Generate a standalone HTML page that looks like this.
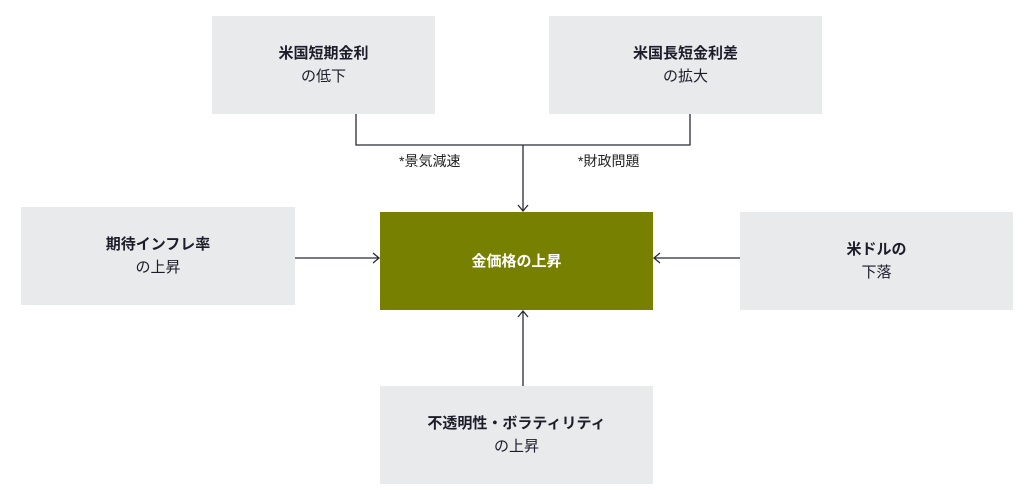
<!DOCTYPE html>
<html><head><meta charset="utf-8"><style>
body{margin:0;width:1036px;height:501px;background:#fff;position:relative;overflow:hidden;font-family:"Liberation Sans","Noto Sans CJK JP",sans-serif;color:#1c1c2a}
.b{position:absolute;background:#e9eaeb;display:flex;flex-direction:column;align-items:center;justify-content:center;font-size:15px;line-height:23px;text-align:center}
.b b{font-weight:700}
.c{background:#788000;color:#fff}
.l{position:absolute;font-size:14px;color:#222}
</style></head><body>
<div class="b" style="left:212px;top:16px;width:223px;height:98px"><b>米国短期金利</b><span>の低下</span></div>
<div class="b" style="left:549px;top:16px;width:273px;height:98px"><b>米国長短金利差</b><span>の拡大</span></div>
<div class="b" style="left:21px;top:207px;width:274px;height:98px"><b>期待インフレ率</b><span>の上昇</span></div>
<div class="b c" style="left:380px;top:212px;width:273px;height:98px"><b>金価格の上昇</b></div>
<div class="b" style="left:740px;top:212px;width:273px;height:98px"><b>米ドルの</b><span>下落</span></div>
<div class="b" style="left:380px;top:386px;width:273px;height:98px"><b>不透明性・ボラティリティ</b><span>の上昇</span></div>
<div class="l" style="left:399px;top:151px">*景気減速</div>
<div class="l" style="left:578px;top:151px">*財政問題</div>
<svg width="1036" height="501" style="position:absolute;left:0;top:0" fill="none" stroke="#2a2a3a" stroke-width="1.3">
<path d="M356 114V145H690V114M523 145V211"/>
<path d="M518 205L523 211L528 205"/>
<path d="M295 258H379M373 253L379 258L373 263"/>
<path d="M740 258H654M660 253L654 258L660 263"/>
<path d="M523 386V311M518 317L523 311L528 317"/>
</svg>
</body></html>
